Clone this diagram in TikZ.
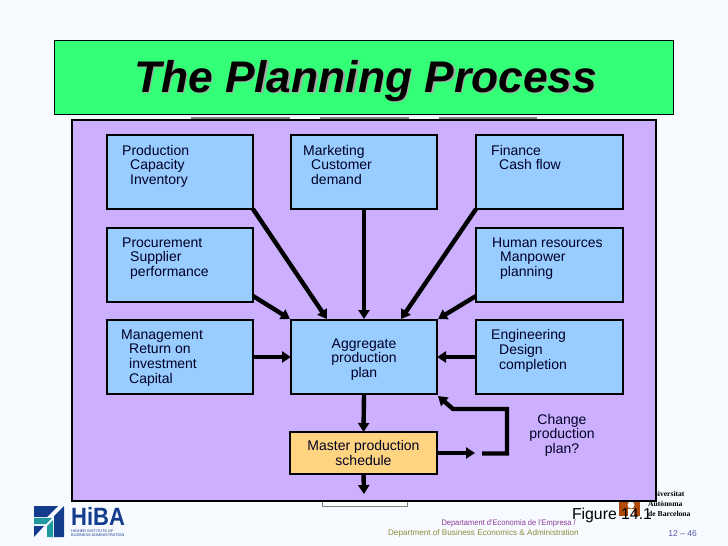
\documentclass[tikz,border=0pt]{standalone}
\usepackage{fontspec}
\setmainfont{Liberation Sans}
\newfontfamily\serifbf{Liberation Serif}
\usetikzlibrary{arrows.meta}
\definecolor{pagebg}{HTML}{F7FAFF}
\definecolor{titlegreen}{HTML}{33FF77}
\definecolor{panel}{HTML}{CCB0FF}
\definecolor{boxblue}{HTML}{99CCFF}
\definecolor{boxgold}{HTML}{FFD480}
\definecolor{stripgray}{HTML}{808080}
\definecolor{hibablue}{HTML}{143C8C}
\definecolor{hibateal}{HTML}{1E9A9E}
\definecolor{uabbrown}{HTML}{B04A08}
\definecolor{deptpurple}{HTML}{8A3A96}
\definecolor{deptolive}{HTML}{8C8C3C}
\definecolor{pagenum}{HTML}{5058A8}
\tikzset{
  x=1pt,y=-1pt,
  boxnode/.style={draw=black,line width=2.6pt,fill=boxblue,inner sep=0pt,outer sep=0pt,minimum width=146pt},
  boxtxt/.style={anchor=north west,inner sep=0pt,align=left,font=\fontsize{14}{14.6}\selectfont,text=black!85!blue},
  ctrtxt/.style={inner sep=0pt,align=center,font=\fontsize{14}{14.5}\selectfont,text=black!85!blue},
  flow/.style={line width=4.4pt,draw=black,-{Triangle[length=9pt,width=11pt]}},
}
\begin{document}
\begin{tikzpicture}
\useasboundingbox (0,0) rectangle (728,546);
\fill[pagebg] (0,0) rectangle (728,546);
% title
\node[draw=black,line width=1pt,fill=titlegreen,minimum width=619pt,minimum height=74pt,inner sep=0pt,outer sep=0pt,anchor=north west] (title) at (54,40) {};
\node[font=\fontsize{44.3}{48}\selectfont\bfseries\itshape,text=black!35,inner sep=0pt] (titleshadow) at (367,82.5) {The Planning Process};
\node[font=\fontsize{44.3}{48}\selectfont\bfseries\itshape,text=black,inner sep=0pt] (titletext) at (365.5,81) {The Planning Process};
% gray strips behind panel
\fill[stripgray] (191,117) rectangle (290,121);
\fill[stripgray] (320,117) rectangle (409,121);
\fill[stripgray] (439,117) rectangle (537,121);
\draw[stripgray,fill=white,line width=1pt] (322,499) rectangle (407,506);
% right logo
\fill[uabbrown] (619,502) rectangle (640,516);
\fill[white] (631,505) circle (3.5);
\fill[white] (628,509) rectangle (634,516);
\node[anchor=north west,inner sep=0pt,align=left,font=\serifbf\fontsize{7.6}{9.8}\selectfont\bfseries,text=black] (uab) at (648,491) {Universitat\\Autònoma\\de Barcelona};
% panel
\node[draw=black,line width=2.6pt,fill=panel,minimum width=584pt,minimum height=381pt,inner sep=0pt,outer sep=0pt,anchor=north west] (panelbox) at (72,120) {};
% boxes
\node[boxnode,minimum height=74pt,anchor=north west] (prod) at (107,135) {};
\node[boxnode,minimum height=74pt,anchor=north west] (mkt) at (291,135) {};
\node[boxnode,minimum height=74pt,anchor=north west,minimum width=147pt] (fin) at (476,135) {};
\node[boxnode,minimum height=74pt,anchor=north west] (proc) at (107,228) {};
\node[boxnode,minimum height=74pt,anchor=north west,minimum width=147pt] (hr) at (476,228) {};
\node[boxnode,minimum height=74pt,anchor=north west] (mgmt) at (107,320) {};
\node[boxnode,minimum height=74pt,anchor=north west] (agg) at (291,320) {};
\node[boxnode,minimum height=74pt,anchor=north west,minimum width=147pt] (eng) at (476,320) {};
\node[boxnode,fill=boxgold,minimum height=42pt,minimum width=147pt,anchor=north west,ctrtxt] (mps) at (290,432) {Master production\\schedule};
% box texts
\node[boxtxt] (tprod) at (122,145) {Production\\\hspace{8pt}Capacity\\\hspace{8pt}Inventory};
\node[boxtxt] (tmkt) at (303,145) {Marketing\\\hspace{8pt}Customer\\\hspace{8pt}demand};
\node[boxtxt] (tfin) at (491,145) {Finance\\\hspace{8pt}Cash flow};
\node[boxtxt] (tproc) at (122,237.5) {Procurement\\\hspace{8pt}Supplier\\\hspace{8pt}performance};
\node[boxtxt] (thr) at (492,237.5) {Human resources\\\hspace{8pt}Manpower\\\hspace{8pt}planning};
\node[boxtxt] (tmgmt) at (121,329.5) {Management\\\hspace{8pt}Return on\\\hspace{8pt}investment\\\hspace{8pt}Capital};
\node[boxtxt] (teng) at (491,329.5) {Engineering\\\hspace{8pt}Design\\\hspace{8pt}completion};
\node[ctrtxt] (tagg) at (364,359.5) {Aggregate\\production\\plan};
\node[ctrtxt] (change) at (562,435) {Change\\production\\plan?};
% connector ends
\coordinate (aggA) at (327,319);
\coordinate (aggB) at (364,319);
\coordinate (aggC) at (401,319);
\coordinate (aggD) at (290,319);
\coordinate (aggE) at (438,319);
\coordinate (aggF) at (438,396);
\coordinate (mpsOut) at (364,494);
\coordinate (fbEnd) at (475,453);
\coordinate (fbStart) at (482,453.5);
\coordinate (fbCorner) at (507,453.5);
\coordinate (fbTop) at (507,409);
\coordinate (fbLeft) at (453,409);
\coordinate (procOut) at (253,296);
\coordinate (hrOut) at (476,296);
% connectors
\draw[flow] (prod.south east) -- (aggA);
\draw[flow] (mkt.south) -- (aggB);
\draw[flow] (fin.south west) -- (aggC);
\draw[flow] (procOut) -- (aggD);
\draw[flow] (hrOut) -- (aggE);
\draw[flow] (mgmt.east) -- (agg.west);
\draw[flow] (eng.west) -- (agg.east);
\draw[flow] (agg.south) -- (mps.north);
\draw[flow] (mps.south) -- (mpsOut);
\draw[flow] (mps.east) -- (fbEnd);
\draw[flow,line join=miter] (fbStart) -- (fbCorner) -- (fbTop) -- (fbLeft) -- (aggF);
% figure label
\node[inner sep=0pt,font=\fontsize{15.8}{18}\selectfont,text=black] (figlabel) at (612,515) {Figure 14.1};
% footer
\node[inner sep=0pt,anchor=east,font=\fontsize{8}{9}\selectfont,text=deptpurple,xscale=0.935] (dept1) at (576,523.5) {Departament d'Economia de l'Empresa /};
\node[inner sep=0pt,anchor=east,font=\fontsize{8.15}{9}\selectfont,text=deptolive] (dept2) at (579,533.5) {Department of Business Economics \& Administration};
\node[inner sep=0pt,anchor=east,font=\fontsize{8.5}{9}\selectfont,text=pagenum] (pnum) at (697,533.5) {12 – 46};
% HiBA mark
\fill[hibablue] (34,506) -- (58,506) -- (47,517) -- (34,517) -- cycle;
\fill[hibablue] (64,506) -- (64,537) -- (54,537) -- (54,516) -- cycle;
\fill[hibateal] (34,518) -- (52,518) -- (46,524) -- (34,524) -- cycle;
\fill[hibablue] (34,526) -- (44,526) -- (34,537) -- cycle;
\fill[hibateal] (47,537) -- (47,526) -- (53,520) -- (53,537) -- cycle;
% HiBA wordmark
\node[inner sep=0pt,anchor=west,font=\fontsize{25}{26}\selectfont\bfseries,text=hibablue,xscale=0.88] (hiba) at (71,516.5) {HiBA};
\node[inner sep=0pt,anchor=north west,align=left,font=\fontsize{3.85}{4.2}\selectfont,text=hibablue] (hibasub) at (71,529.5) {HIGHER INSTITUTE OF\\BUSINESS ADMINISTRATION};
\end{tikzpicture}
\end{document}
